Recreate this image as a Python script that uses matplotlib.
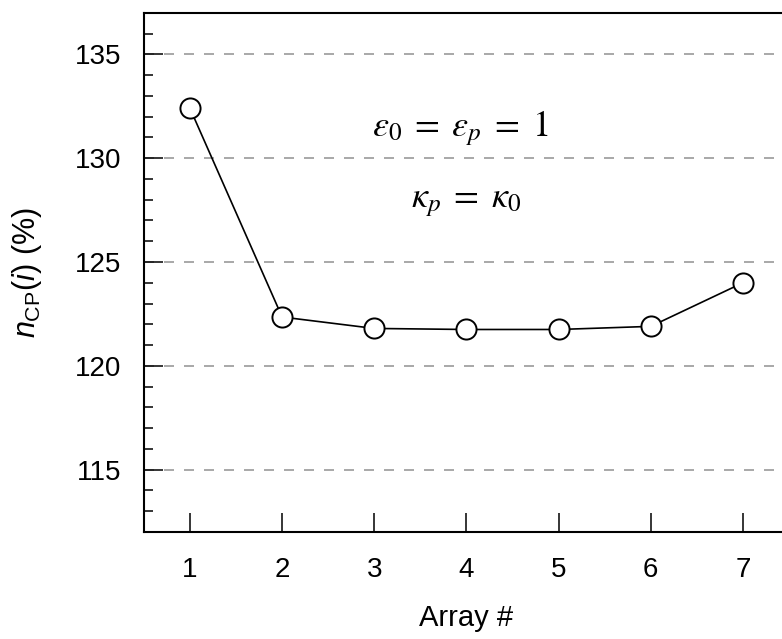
import matplotlib
matplotlib.use("Agg")
import matplotlib.pyplot as plt
from matplotlib.ticker import MultipleLocator

plt.rcParams['font.family'] = ['Liberation Sans', 'DejaVu Sans']
plt.rcParams['mathtext.fontset'] = 'custom'
plt.rcParams['mathtext.rm'] = 'Liberation Sans'
plt.rcParams['mathtext.it'] = 'Liberation Sans:italic'

# values
arrays = [1, 2, 3, 4, 5, 6, 7]
n_cp = [132.4, 122.35, 121.8, 121.75, 121.75, 121.9, 124.0]
y_ticks = [115, 120, 125, 130, 135]

fig = plt.figure(figsize=(7.82, 6.39), dpi=100)
ax = fig.add_axes([0.184, 0.1675, 0.825, 0.8125])

for yv in y_ticks:
    ax.axhline(yv, color='#999999', lw=1.2, dashes=(6, 6), zorder=1)

ax.plot(arrays, n_cp, '-o', color='black', lw=1.2, ms=14.5,
        mfc='white', mec='black', mew=1.4, zorder=3)

ax.set_xlim(0.5, 7.5)
ax.set_ylim(112, 137)
ax.set_xticks(arrays)
ax.set_yticks(y_ticks)
ax.yaxis.set_minor_locator(MultipleLocator(1))
ax.tick_params(which='major', direction='in', length=13.5, width=1.1, labelsize=20)
ax.tick_params(which='minor', direction='in', length=6.5, width=1.1)
ax.tick_params(axis='y', pad=16)
ax.tick_params(axis='x', pad=18)
for s in ax.spines.values():
    s.set_linewidth(1.5)

ax.set_xlabel('Array #', fontsize=21, labelpad=15.5)
ax.set_ylabel(r'$n_{\mathrm{CP}}(i)$ (%)', fontsize=22)
ax.yaxis.set_label_coords(-0.155, 0.5)

ax.text(0.49, 0.778, r'$\varepsilon_0 \;=\; \varepsilon_p \;=\; 1$', transform=ax.transAxes,
        ha='center', va='center', fontsize=26, math_fontfamily='stix')
ax.text(0.50, 0.637, r'$\kappa_p \;=\; \kappa_0$', transform=ax.transAxes,
        ha='center', va='center', fontsize=26, math_fontfamily='stix')

fig.savefig('out.png', dpi=100)
